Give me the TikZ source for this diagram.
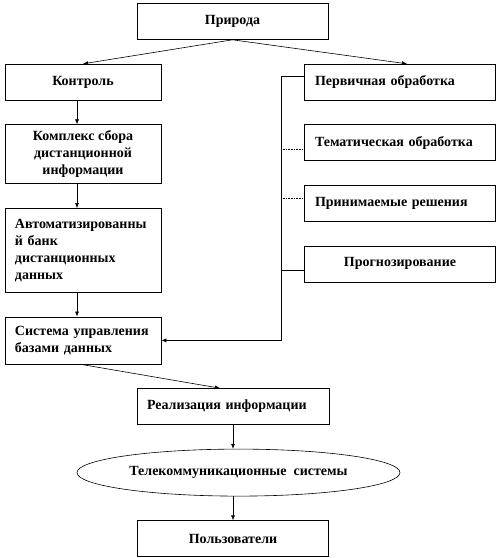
\documentclass[tikz,border=0pt]{standalone}
\usepackage{fontspec}
\setmainfont{Liberation Serif}[BoldFont={Liberation Serif Bold}]
\usepackage{tikz}
\usetikzlibrary{positioning,arrows.meta,shapes.geometric}

\newcommand{\boxfont}{\fontsize{14}{17}\selectfont\bfseries}

\begin{document}
\begin{tikzpicture}[x=1pt,y=1pt,>={Latex[length=5pt,width=4pt]},
			node distance=24pt,
			line width=0.6pt,
			every node/.style={
				draw,
				minimum height=36pt,
				inner xsep=10pt,
				inner ysep=2pt,
				align=center,
				font=\boxfont},
			wide/.style={minimum width=191pt},
			narrow/.style={minimum width=156pt},
			lefttext/.style={text width=#1, align=left}]
			
			\useasboundingbox (0,0) rectangle (500,-558);
			
			\node (nature)[wide] at (232.5,-21.5){Природа};
			
			\node (control)[narrow,below=of nature,xshift=-149.5pt]{Контроль};
			
			\node (complex)[narrow,below=of control,minimum height=59pt]{Комплекс сбора\\дистанционной\\информации};
			
			\node (bank)[narrow,below=of complex,minimum height=84pt,lefttext=136pt]{Автоматизированны\\й банк\\дистанционных\\данных};
			
			\node (dbms)[narrow,below=of bank,minimum height=47pt,lefttext=136pt]{Система управления\\базами данных};
			
			\node (primary)[wide,below=of nature,xshift=167.5pt,lefttext=170pt]{Первичная обработка};
			
			\node (thematic)[wide,below=of primary,lefttext=170pt]{Тематическая обработка};
			
			\node (decision)[wide,below=of thematic,lefttext=170pt]{Принимаемые решения};
			
			\node (forecast)[wide,below=of decision]{Прогнозирование};
			
			\node (realize)[wide,below=of dbms,xshift=150pt,lefttext=172pt]{Реализация информации};
			
			\node (telecom)[ellipse,below=of realize,xshift=5.5pt,minimum width=323pt,minimum height=47pt,inner sep=0pt]{Телекоммуникационные \ системы};
			
			\node (users)[wide,below=of telecom,xshift=-5.5pt]{Пользователи};
			
			\coordinate (bus) at ([xshift=120pt]dbms.east);
			
			\draw[->](nature.south)--(control.north);
			
			\draw[->](nature.south)--([xshift=7pt]primary.north);
			
			\draw[->]([xshift=-6pt]control.south)--([xshift=-6pt]complex.north);
			
			\draw[->]([xshift=-6pt]complex.south)--([xshift=-6pt]bank.north);
			
			\draw[->]([xshift=-6pt]bank.south)--([xshift=-6pt]dbms.north);
			
			\draw[->]([xshift=-3pt]dbms.south)--([xshift=-13pt]realize.north);
			
			\draw[->](realize.south)--(realize.south|-telecom.north);
			
			\draw[->](realize.south|-telecom.south)--(users.north);
			
			\draw[->]([yshift=6pt]primary.west)-|(bus)--(dbms.east);
			
			\draw[densely dotted]([yshift=-7pt]thematic.west)--([yshift=-7pt]thematic.west-|bus);
			
			\draw[densely dotted]([yshift=5pt]decision.west)--([yshift=5pt]decision.west-|bus);
			
			\draw([yshift=-6pt]forecast.west)--([yshift=-6pt]forecast.west-|bus);
			
		\end{tikzpicture}
\end{document}
